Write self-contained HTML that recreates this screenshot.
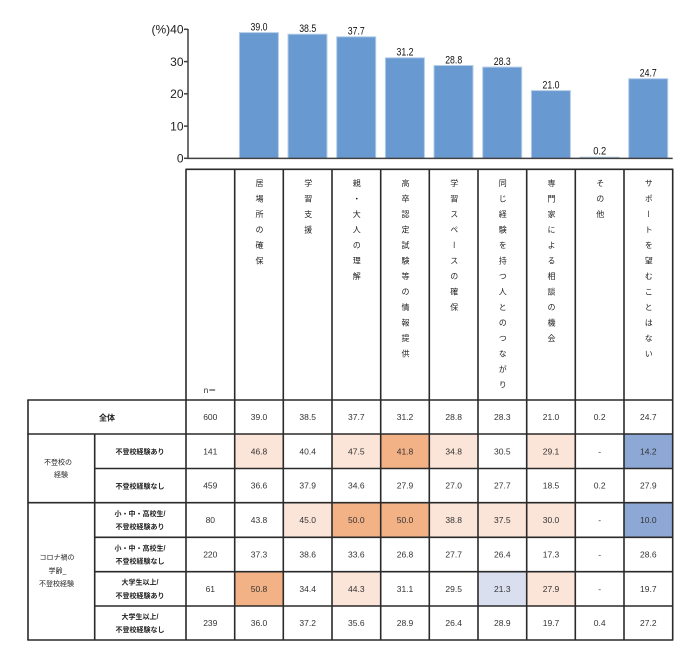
<!DOCTYPE html>
<html><head><meta charset="utf-8">
<style>
html,body{margin:0;padding:0;background:#fff;}
#wrap{position:relative;width:700px;height:664px;overflow:hidden;background:#fff;}
svg{position:absolute;left:0;top:0;}
.vh{position:absolute;top:179px;width:12px;writing-mode:vertical-rl;font-family:"Liberation Sans","Noto Sans CJK JP",sans-serif;font-size:8px;letter-spacing:7.5px;line-height:12px;color:#222;text-align:left;}
</style></head>
<body><div id="wrap">
<svg width="700" height="664" viewBox="0 0 700 664" xmlns="http://www.w3.org/2000/svg">
<!-- bars -->
<g fill="#6899d0" stroke="#b4cde9" stroke-width="1">
<rect x="239.4" y="32.6" width="39" height="125.7"/>
<rect x="288.0" y="34.2" width="39" height="124.1"/>
<rect x="336.7" y="36.8" width="39" height="121.5"/>
<rect x="385.4" y="57.8" width="39" height="100.5"/>
<rect x="434.0" y="65.5" width="39" height="92.8"/>
<rect x="482.7" y="67.1" width="39" height="91.2"/>
<rect x="531.4" y="90.6" width="39" height="67.7"/>
<rect x="580.0" y="157.2" width="39" height="1.1"/>
<rect x="628.7" y="78.7" width="39" height="79.6"/>
</g>
<g font-family="Liberation Sans, sans-serif" font-size="11" fill="#111" text-anchor="middle">
<text x="259" y="30.4" textLength="17" lengthAdjust="spacingAndGlyphs">39.0</text>
<text x="307.7" y="32" textLength="17" lengthAdjust="spacingAndGlyphs">38.5</text>
<text x="356.3" y="34.6" textLength="17" lengthAdjust="spacingAndGlyphs">37.7</text>
<text x="405" y="55.6" textLength="17" lengthAdjust="spacingAndGlyphs">31.2</text>
<text x="453.7" y="63.3" textLength="17" lengthAdjust="spacingAndGlyphs">28.8</text>
<text x="502.3" y="64.9" textLength="17" lengthAdjust="spacingAndGlyphs">28.3</text>
<text x="551" y="88.4" textLength="17" lengthAdjust="spacingAndGlyphs">21.0</text>
<text x="599.7" y="154.3" textLength="13" lengthAdjust="spacingAndGlyphs">0.2</text>
<text x="648.3" y="76.5" textLength="17" lengthAdjust="spacingAndGlyphs">24.7</text>
</g>
<!-- axis -->
<g stroke="#404040" stroke-width="1.5" fill="none">
<line x1="188" y1="29" x2="188" y2="158.5"/>
<line x1="184" y1="29.3" x2="188" y2="29.3"/>
<line x1="184" y1="61.6" x2="188" y2="61.6"/>
<line x1="184" y1="93.8" x2="188" y2="93.8"/>
<line x1="184" y1="126.1" x2="188" y2="126.1"/>
<line x1="184" y1="158.3" x2="188" y2="158.3"/>
<line x1="187.3" y1="158.4" x2="672.7" y2="158.4"/>
</g>
<g font-family="Liberation Sans, sans-serif" font-size="12" fill="#222" text-anchor="end">
<text x="183.5" y="33.6">(%)40</text>
<text x="183.5" y="65.9">30</text>
<text x="183.5" y="98.1">20</text>
<text x="183.5" y="130.4">10</text>
<text x="183.5" y="162.6">0</text>
</g>
<!-- cell fills -->
<g>
<rect x="234.7" y="434" width="48.7" height="34.5" fill="#fbe4d8"/>
<rect x="332" y="434" width="48.7" height="34.5" fill="#fbe4d8"/>
<rect x="380.7" y="434" width="48.7" height="34.5" fill="#f3b186"/>
<rect x="429.3" y="434" width="48.7" height="34.5" fill="#fbe4d8"/>
<rect x="526.7" y="434" width="48.7" height="34.5" fill="#fbe4d8"/>
<rect x="624" y="434" width="48.7" height="34.5" fill="#8ea8d6"/>
<rect x="283.3" y="502.7" width="48.7" height="34.6" fill="#fbe4d8"/>
<rect x="332" y="502.7" width="48.7" height="34.6" fill="#f3b186"/>
<rect x="380.7" y="502.7" width="48.7" height="34.6" fill="#f3b186"/>
<rect x="429.3" y="502.7" width="48.7" height="34.6" fill="#fbe4d8"/>
<rect x="478" y="502.7" width="48.7" height="34.6" fill="#fbe4d8"/>
<rect x="526.7" y="502.7" width="48.7" height="34.6" fill="#fbe4d8"/>
<rect x="624" y="502.7" width="48.7" height="34.6" fill="#8ea8d6"/>
<rect x="234.7" y="571.7" width="48.7" height="34.3" fill="#f3b186"/>
<rect x="332" y="571.7" width="48.7" height="34.3" fill="#fbe4d8"/>
<rect x="478" y="571.7" width="48.7" height="34.3" fill="#dadff0"/>
<rect x="526.7" y="571.7" width="48.7" height="34.3" fill="#fbe4d8"/>
</g>
<!-- table lines -->
<g stroke="#2a2a2a" stroke-width="1.6" fill="none">
<line x1="185.5" y1="169.3" x2="673.4" y2="169.3"/>
<line x1="27.3" y1="400" x2="673.4" y2="400"/>
<line x1="27.3" y1="434" x2="673.4" y2="434"/>
<line x1="94.7" y1="468.5" x2="673.4" y2="468.5"/>
<line x1="27.3" y1="502.7" x2="673.4" y2="502.7"/>
<line x1="94.7" y1="537.3" x2="673.4" y2="537.3"/>
<line x1="94.7" y1="571.7" x2="673.4" y2="571.7"/>
<line x1="94.7" y1="606" x2="673.4" y2="606"/>
<line x1="27.3" y1="640" x2="673.4" y2="640"/>
<line x1="28" y1="400" x2="28" y2="640"/>
<line x1="94.7" y1="434" x2="94.7" y2="640"/>
<line x1="186" y1="169.3" x2="186" y2="640"/>
<line x1="234.7" y1="169.3" x2="234.7" y2="640"/>
<line x1="283.3" y1="169.3" x2="283.3" y2="640"/>
<line x1="332" y1="169.3" x2="332" y2="640"/>
<line x1="380.7" y1="169.3" x2="380.7" y2="640"/>
<line x1="429.3" y1="169.3" x2="429.3" y2="640"/>
<line x1="478" y1="169.3" x2="478" y2="640"/>
<line x1="526.7" y1="169.3" x2="526.7" y2="640"/>
<line x1="575.3" y1="169.3" x2="575.3" y2="640"/>
<line x1="624" y1="169.3" x2="624" y2="640"/>
<line x1="672.7" y1="169.3" x2="672.7" y2="640"/>
</g>
<!-- row labels -->
<g font-family="Liberation Sans, Noto Sans CJK JP, sans-serif" fill="#222" text-anchor="middle">
<text x="210" y="393" font-size="8">n＝</text>
<text x="107" y="420.5" font-size="8" font-weight="bold">全体</text>
<text x="58" y="464.5" font-size="7">不登校の</text>
<text x="61" y="477" font-size="7">経験</text>
<text x="57" y="559.5" font-size="7">コロナ禍の</text>
<text x="57.5" y="572.8" font-size="7">学齢_</text>
<text x="56.5" y="586" font-size="7">不登校経験</text>
<g font-size="7" font-weight="bold">
<text x="140" y="454">不登校経験あり</text>
<text x="140" y="488.3">不登校経験なし</text>
<text x="140" y="515.8">小・中・高校生/</text>
<text x="140" y="529">不登校経験あり</text>
<text x="140" y="550.3">小・中・高校生/</text>
<text x="140" y="563.5">不登校経験なし</text>
<text x="140" y="584.6">大学生以上/</text>
<text x="140" y="597.8">不登校経験あり</text>
<text x="140" y="619">大学生以上/</text>
<text x="140" y="632.2">不登校経験なし</text>
</g>
</g>
<!-- data -->
<g font-family="Liberation Sans, sans-serif" font-size="8.5" fill="#333" text-anchor="middle">
<g transform="translate(0,420)">
<text x="210.3">600</text><text x="259">39.0</text><text x="307.7">38.5</text><text x="356.3">37.7</text><text x="405">31.2</text><text x="453.7">28.8</text><text x="502.3">28.3</text><text x="551">21.0</text><text x="599.7">0.2</text><text x="648.3">24.7</text>
</g>
<g transform="translate(0,454.3)">
<text x="210.3">141</text><text x="259">46.8</text><text x="307.7">40.4</text><text x="356.3">47.5</text><text x="405">41.8</text><text x="453.7">34.8</text><text x="502.3">30.5</text><text x="551">29.1</text><text x="599.7">-</text><text x="648.3">14.2</text>
</g>
<g transform="translate(0,488.6)">
<text x="210.3">459</text><text x="259">36.6</text><text x="307.7">37.9</text><text x="356.3">34.6</text><text x="405">27.9</text><text x="453.7">27.0</text><text x="502.3">27.7</text><text x="551">18.5</text><text x="599.7">0.2</text><text x="648.3">27.9</text>
</g>
<g transform="translate(0,523)">
<text x="210.3">80</text><text x="259">43.8</text><text x="307.7">45.0</text><text x="356.3">50.0</text><text x="405">50.0</text><text x="453.7">38.8</text><text x="502.3">37.5</text><text x="551">30.0</text><text x="599.7">-</text><text x="648.3">10.0</text>
</g>
<g transform="translate(0,557.5)">
<text x="210.3">220</text><text x="259">37.3</text><text x="307.7">38.6</text><text x="356.3">33.6</text><text x="405">26.8</text><text x="453.7">27.7</text><text x="502.3">26.4</text><text x="551">17.3</text><text x="599.7">-</text><text x="648.3">28.6</text>
</g>
<g transform="translate(0,591.9)">
<text x="210.3">61</text><text x="259">50.8</text><text x="307.7">34.4</text><text x="356.3">44.3</text><text x="405">31.1</text><text x="453.7">29.5</text><text x="502.3">21.3</text><text x="551">27.9</text><text x="599.7">-</text><text x="648.3">19.7</text>
</g>
<g transform="translate(0,626)">
<text x="210.3">239</text><text x="259">36.0</text><text x="307.7">37.2</text><text x="356.3">35.6</text><text x="405">28.9</text><text x="453.7">26.4</text><text x="502.3">28.9</text><text x="551">19.7</text><text x="599.7">0.4</text><text x="648.3">27.2</text>
</g>
</g>
</svg>
<div class="vh" style="left:253px">居場所の確保</div>
<div class="vh" style="left:301.7px">学習支援</div>
<div class="vh" style="left:350.3px">親・大人の理解</div>
<div class="vh" style="left:399px">高卒認定試験等の情報提供</div>
<div class="vh" style="left:447.7px">学習スペースの確保</div>
<div class="vh" style="left:496.3px">同じ経験を持つ人とのつながり</div>
<div class="vh" style="left:545px">専門家による相談の機会</div>
<div class="vh" style="left:593.7px">その他</div>
<div class="vh" style="left:642.3px">サポートを望むことはない</div>
</div></body></html>
